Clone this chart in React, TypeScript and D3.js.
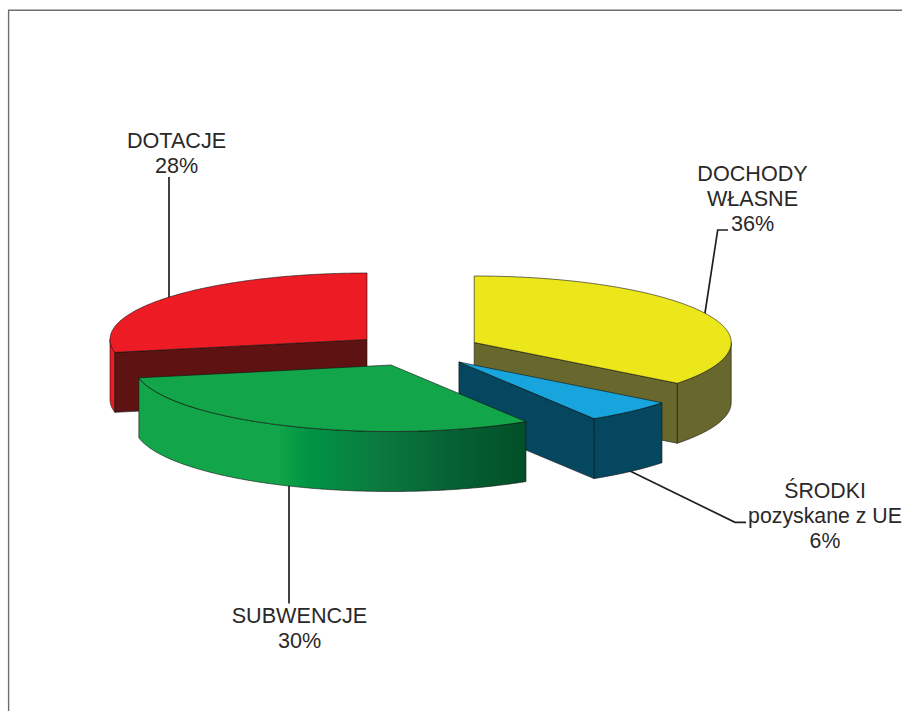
import React from "react";
import * as d3 from "d3";

const categories = ["DOCHODY WŁASNE", "ŚRODKI pozyskane z UE", "SUBWENCJE", "DOTACJE"];
const sliceValues = [35.5, 5.7, 30.7, 28.1];
const percentLabels = ["36%", "6%", "30%", "28%"];
const labelLines = [["DOCHODY", "WŁASNE", "36%"], ["ŚRODKI", "pozyskane z UE", "6%"], ["SUBWENCJE", "30%"], ["DOTACJE", "28%"]];
const topColors = ["#ebe71b", "#18a4dc", "#12a54a", "#ed1c24"];
const wallColors = ["#68682e", "#04475f", "url(#greenWall)", "#ed1c24"];
const innerWallColors = ["#68682e", "#04475f", "none", "#5f1212"];

// Layout
const W = 902, H = 711;
const RX = 257, RY = 66.5, DEPTH = 60;
const centers: [number, number][] = [[474.2, 342.5], [458.9, 362], [391, 365], [367, 339.5]];
const labelAnchors: [number, number][] = [[752.5, 181], [825, 497.7], [299.5, 622.7], [176.5, 148]];
const labelSizes = [21.6, 21.3, 21.6, 21.6];
const leaders: [number, number][][] = [
  [[705, 313], [717.7, 230], [728, 230]],
  [[630, 471], [735, 522.3], [746, 522.3]],
  [[289, 485], [289, 603.5]],
  [[169, 300], [169, 177]],
];
const drawOrder = [3, 0, 1, 2];
const greenStops: [number, string][] = [[0, "#12a54a"], [0.36, "#12a54a"], [0.435, "#009444"], [0.62, "#0b7a3f"], [0.8, "#066235"], [1, "#024f28"]];

const pie = d3.pie<number>().sort(null).value((d) => d).startAngle(0).endAngle(2 * Math.PI);
const arcs = pie(sliceValues);
const line = d3.line<[number, number]>();

function project(i: number) {
  const [cx, cy] = centers[i];
  const x = d3.scaleLinear().domain([-1, 1]).range([cx - RX, cx + RX]);
  const y = d3.scaleLinear().domain([-1, 1]).range([cy - RY, cy + RY]);
  return (a: number, dz = 0): [number, number] => [x(Math.sin(a)), y(-Math.cos(a)) + dz];
}
function angles(a0: number, a1: number) {
  const n = Math.max(2, Math.ceil(Math.abs(a1 - a0) / 0.01));
  return d3.range(n + 1).map((k) => a0 + ((a1 - a0) * k) / n);
}

function topPath(i: number) {
  const p = project(i);
  const a = arcs[i];
  const pts = angles(a.startAngle, a.endAngle).map((t) => p(t));
  return line([centers[i], ...pts, centers[i]])! + "Z";
}
function outerWall(i: number) {
  const p = project(i);
  const a0 = Math.max(arcs[i].startAngle, Math.PI / 2);
  const a1 = Math.min(arcs[i].endAngle, (3 * Math.PI) / 2);
  if (a1 <= a0) return null;
  const ts = angles(a0, a1);
  return line([...ts.map((t) => p(t)), ...ts.slice().reverse().map((t) => p(t, DEPTH))])! + "Z";
}
function innerWall(i: number) {
  if (innerWallColors[i] === "none") return null;
  const p = project(i);
  const edge = i === 3 ? arcs[i].startAngle : arcs[i].endAngle;
  const [cx, cy] = centers[i];
  return line([[cx, cy], p(edge), p(edge, DEPTH), [cx, cy + DEPTH]])! + "Z";
}

export default function App() {
  return (
    <svg
      width={W}
      height={H}
      viewBox={`0 0 ${W} ${H}`}
      style={{ position: "absolute", left: 0, top: 0, display: "block", background: "#fff" }}
      role="img"
      aria-label={categories.map((c, i) => `${c} ${percentLabels[i]}`).join(", ")}
    >
      <defs>
        <linearGradient id="greenWall" gradientUnits="userSpaceOnUse" x1={139} x2={526} y1={0} y2={0}>
          {greenStops.map(([o, c]) => (
            <stop key={o} offset={o} stopColor={c} />
          ))}
        </linearGradient>
      </defs>
      <path d={`M${W},10.25H8.6V${H}`} fill="none" stroke="#6d6e71" strokeWidth={1.4} />
      {leaders.map((l, i) => (
        <path key={i} d={line(l)!} fill="none" stroke="#231f20" strokeWidth={1.7} />
      ))}
      {drawOrder.map((i) => {
        const inner = innerWall(i);
        const outer = outerWall(i);
        return (
          <g key={i} stroke="#111" strokeWidth={0.6} strokeLinejoin="round">
            {outer && <path d={outer} fill={wallColors[i]} />}
            {inner && <path d={inner} fill={innerWallColors[i]} />}
            <path d={topPath(i)} fill={topColors[i]} />
          </g>
        );
      })}
      {labelLines.map((lines, i) => (
        <text
          key={i}
          textAnchor="middle"
          fontFamily="'Liberation Sans', Arial, sans-serif"
          fontSize={labelSizes[i]}
          fill="#2b2829"
        >
          {lines.map((s, k) => (
            <tspan key={k} x={labelAnchors[i][0]} y={labelAnchors[i][1] + k * 25.2}>
              {s}
            </tspan>
          ))}
        </text>
      ))}
    </svg>
  );
}
